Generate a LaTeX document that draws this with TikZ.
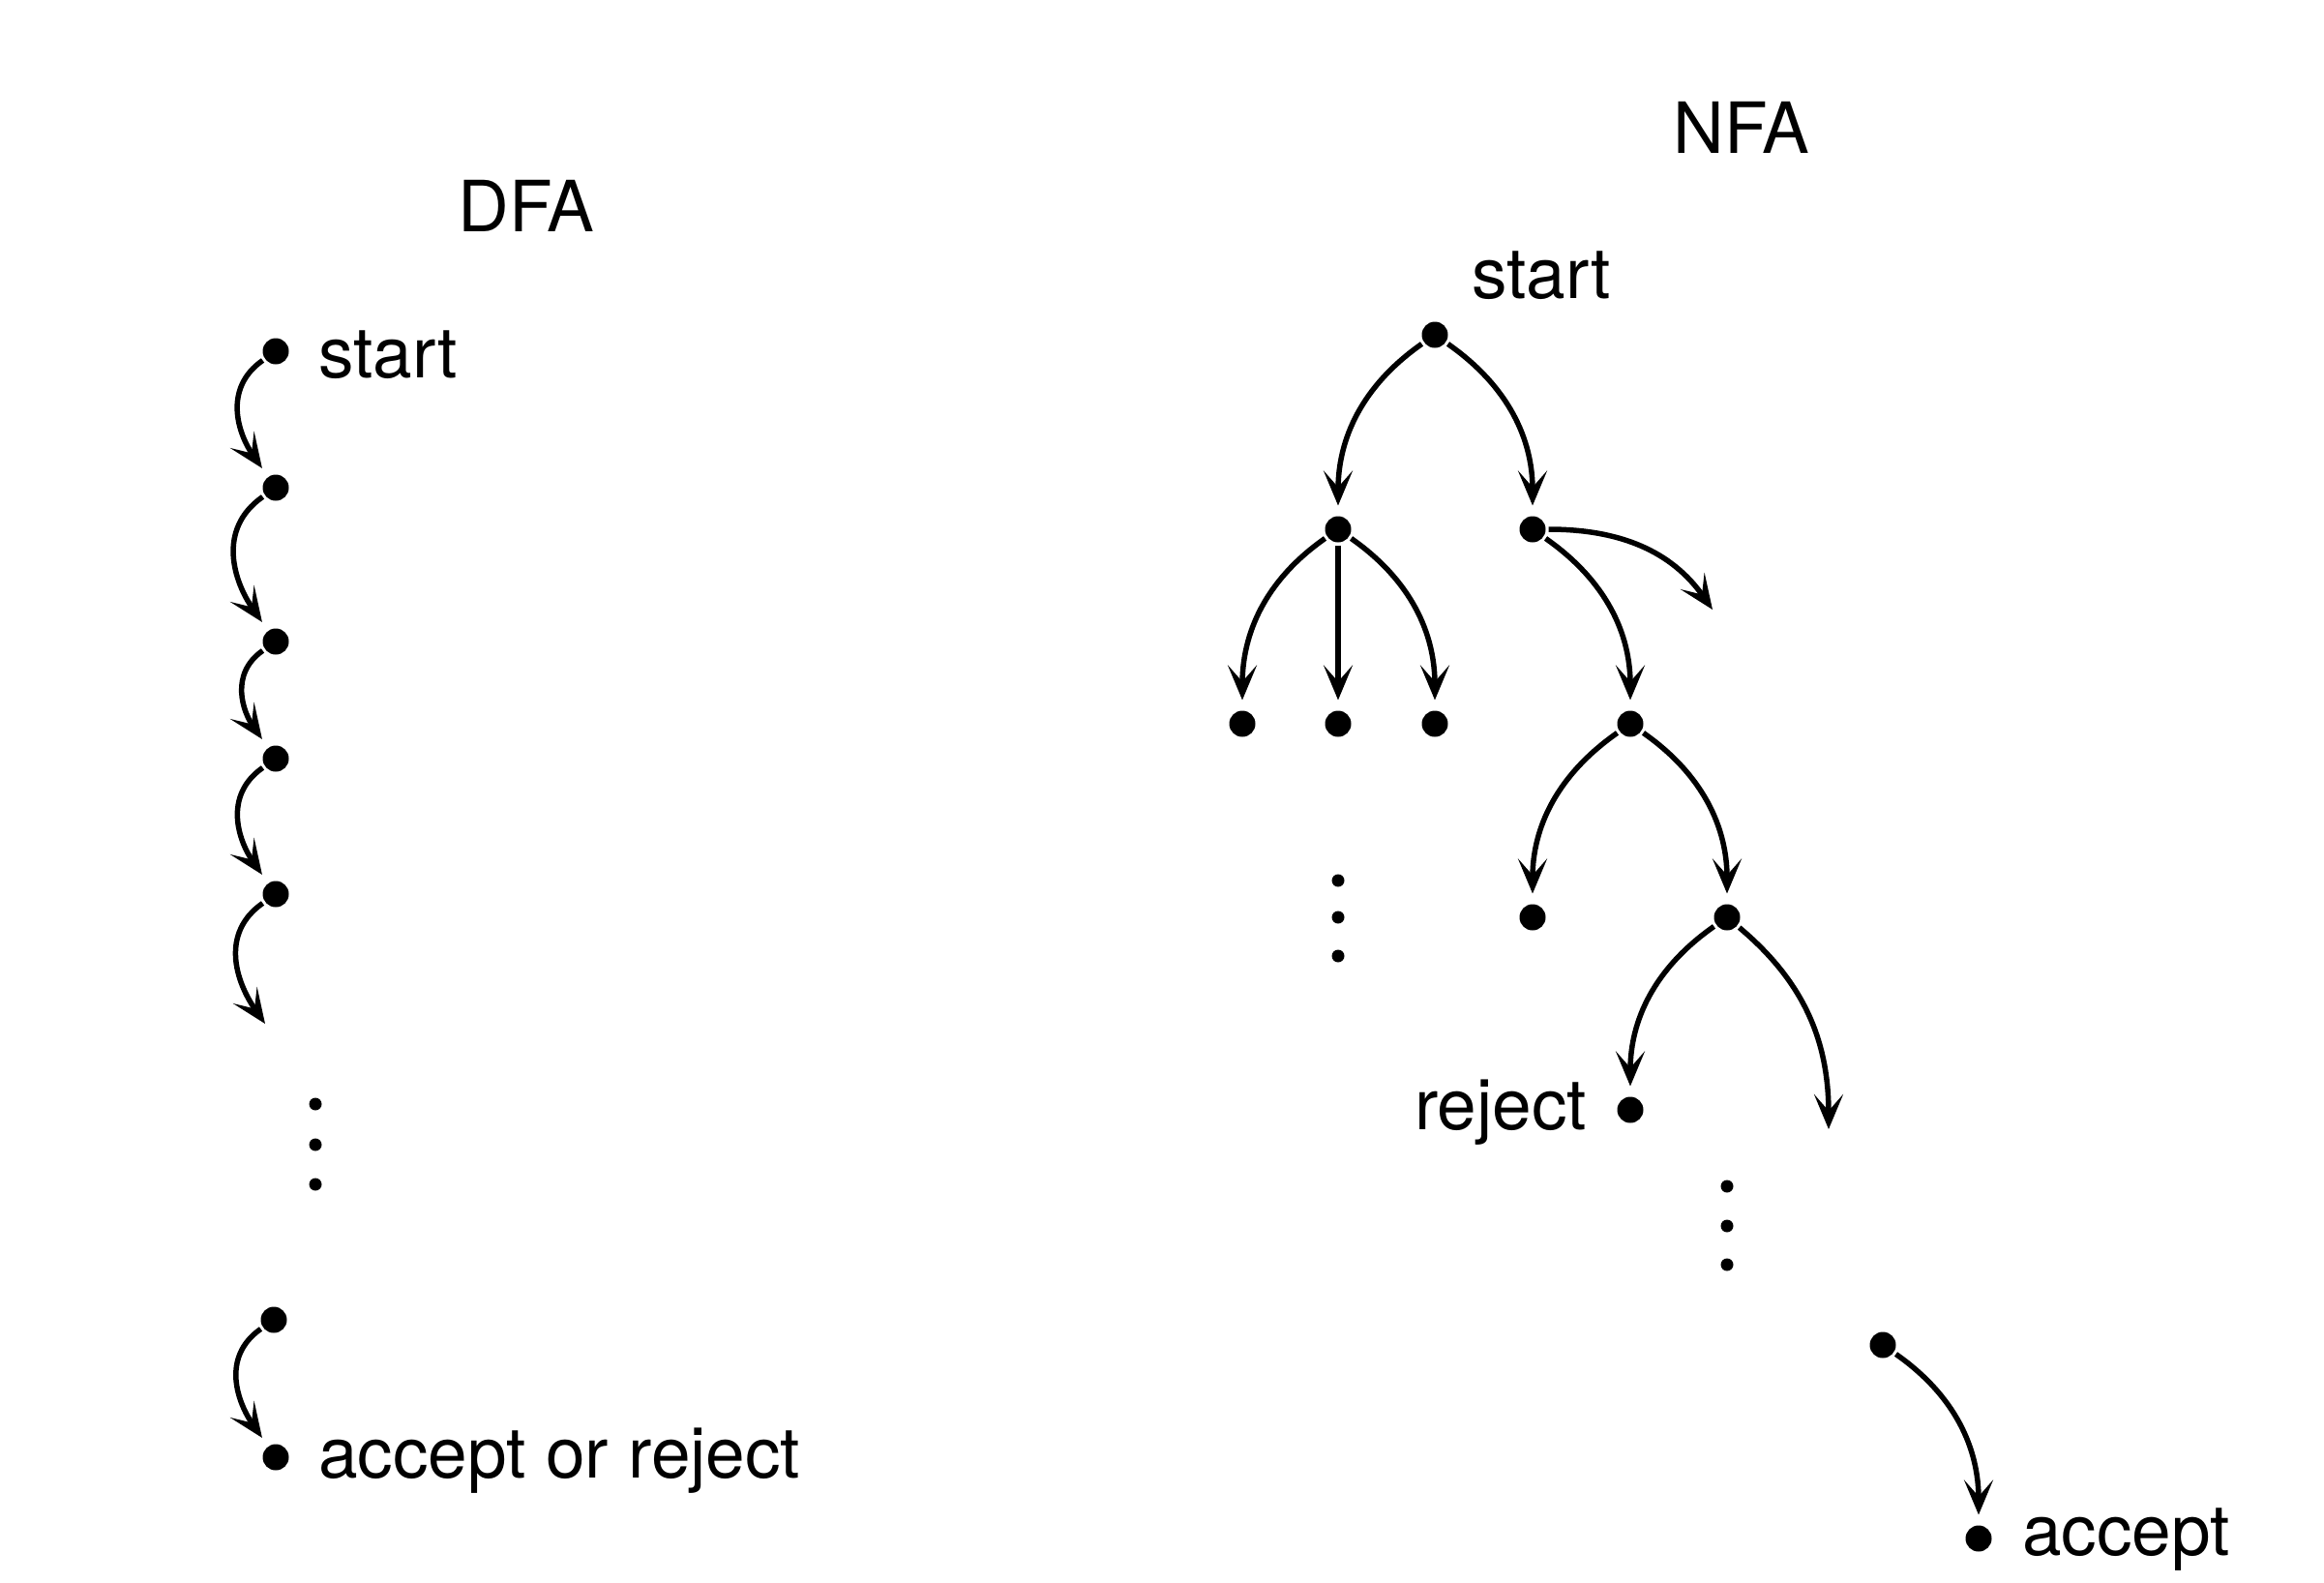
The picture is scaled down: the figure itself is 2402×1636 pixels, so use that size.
\documentclass[tikz,border=0pt]{standalone}
\usepackage{fontspec}
\setmainfont{TeX Gyre Heros}
\usetikzlibrary{arrows.meta}
\begin{document}
\begin{tikzpicture}[x=1pt,y=-1pt,
  st/.style={circle,fill=black,minimum size=27pt,inner sep=0pt,outer sep=3pt},
  sdot/.style={circle,fill=black,minimum size=13pt,inner sep=0pt},
  lbl/.style={inner sep=0pt,font=\fontsize{73}{80}\selectfont},
  edge/.style={line width=5.5pt,-{Stealth[length=36pt,width=30pt,inset=17pt]}},
  tonode/.style={edge,shorten >=8pt},
  dfaedge/.style={out=215,in=125,looseness=1.1}]
\useasboundingbox (0,0) rectangle (2402,1636);
% titles
\node[lbl,anchor=base] (tdfa) at (544,239) {DFA};
\node[lbl,anchor=base] (tnfa) at (1800,158) {NFA};
% DFA column
\node[st] (d1) at (285,363) {};
\node[st] (d2) at (285,504) {};
\node[st] (d3) at (285,663) {};
\node[st] (d4) at (285,784) {};
\node[st] (d5) at (285,924) {};
\coordinate (d6) at (274,1058);
\node[sdot] (dd1) at (326,1141) {};
\node[sdot] (dd2) at (326,1183) {};
\node[sdot] (dd3) at (326,1224) {};
\node[st] (d7) at (283,1364) {};
\node[st] (d8) at (285,1506) {};
\node[lbl,anchor=base west] (ls) at (329,390) {start};
\node[lbl,anchor=base west] (lar) at (329,1527) {accept or reject};
\draw[tonode] (d1) to[dfaedge] (d2);
\draw[tonode] (d2) to[dfaedge] (d3);
\draw[tonode] (d3) to[dfaedge] (d4);
\draw[tonode] (d4) to[dfaedge] (d5);
\draw[edge] (d5) to[dfaedge] (d6);
\draw[tonode] (d7) to[dfaedge] (d8);
% NFA tree
\node[st] (r) at (1483,346) {};
\node[lbl,anchor=base] (lstart) at (1593,308) {start};
\node[st] (a) at (1383,547) {};
\node[st] (b) at (1584,547) {};
\node[st] (a1) at (1284,748) {};
\node[st] (a2) at (1383,748) {};
\node[st] (a3) at (1483,748) {};
\node[sdot] (ad1) at (1383,910) {};
\node[sdot] (ad2) at (1383,948) {};
\node[sdot] (ad3) at (1383,988) {};
\coordinate (bf) at (1770,630);
\node[st] (c) at (1685,748) {};
\node[st] (c1) at (1584,948) {};
\node[st] (dd) at (1785,948) {};
\node[st] (rej) at (1685,1147) {};
\node[lbl,anchor=base east] (lrej) at (1640,1167) {reject};
\coordinate (df) at (1890,1167);
\node[sdot] (cd1) at (1785,1226) {};
\node[sdot] (cd2) at (1785,1267) {};
\node[sdot] (cd3) at (1785,1307) {};
\node[st] (e) at (1946,1390) {};
\node[st] (acc) at (2045,1590) {};
\node[lbl,anchor=base west] (lacc) at (2090,1607) {accept};
\draw[tonode] (r) to[out=215,in=90] (a);
\draw[tonode] (r) to[out=-35,in=90] (b);
\draw[tonode] (a) to[out=215,in=90] (a1);
\draw[tonode] (a) -- (a2);
\draw[tonode] (a) to[out=-35,in=90] (a3);
\draw[edge] (b.east) to[out=0,in=125] (bf);
\draw[tonode] (b) to[out=-35,in=90] (c);
\draw[tonode] (c) to[out=215,in=90] (c1);
\draw[tonode] (c) to[out=-35,in=90] (dd);
\draw[tonode] (dd) to[out=215,in=90] (rej);
\draw[edge] (dd) to[out=-40,in=90] (df);
\draw[tonode] (e) to[out=-35,in=90] (acc);
\end{tikzpicture}
\end{document}
